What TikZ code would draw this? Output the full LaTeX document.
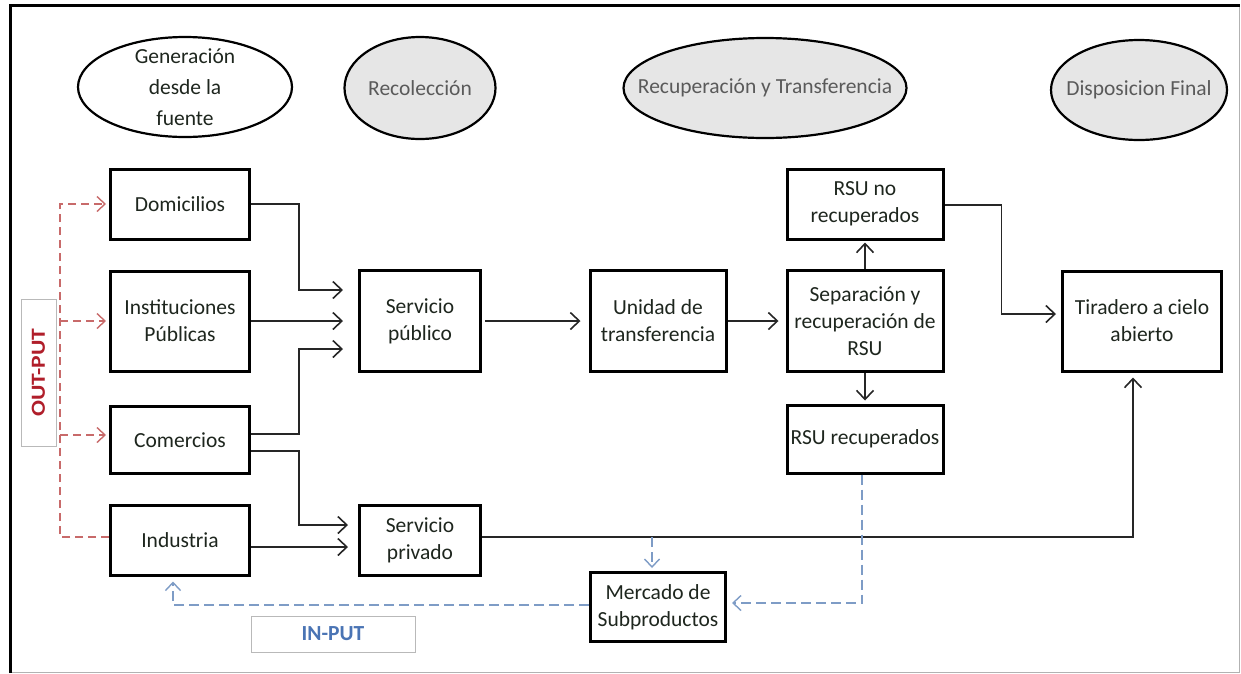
\documentclass[tikz,border=0pt]{standalone}
\usepackage{fontspec}
\setmainfont{Carlito}
\usetikzlibrary{arrows.meta,shapes.geometric}
\definecolor{stagegray}{HTML}{E6E6E6}
\definecolor{stagetext}{HTML}{5A5A5A}
\definecolor{boxtext}{HTML}{1E261E}
\definecolor{outred}{HTML}{C86A6A}
\definecolor{outlabel}{HTML}{B01E2A}
\definecolor{inblue}{HTML}{7E9CC6}
\definecolor{inlabel}{HTML}{4A74B4}
\begin{document}
\begin{tikzpicture}[x=1pt,y=-1pt,
  txt/.style={font=\fontsize{21.5}{27}\selectfont, align=center, text=boxtext},
  stage/.style={ellipse, draw=black, line width=2.2pt, fill=stagegray},
  stagelabel/.style={txt, text=stagetext},
  stepbox/.style={draw=black, line width=3pt, fill=white, txt, inner sep=0pt},
  flow/.style={draw=black!85, line width=1.6pt, -{Straight Barb[length=9pt,width=17pt,line width=1.6pt]}},
  outflow/.style={draw=outred, line width=1.4pt, dash pattern=on 8pt off 5pt,
    -{Straight Barb[length=8pt,width=15pt,line width=1.4pt]}},
  inflow/.style={draw=inblue, line width=1.4pt, dash pattern=on 10pt off 5pt,
    -{Straight Barb[length=8pt,width=15pt,line width=1.4pt]}},
  tag/.style={draw=gray!55, line width=0.8pt, fill=white, inner sep=0pt,
    font=\fontsize{21.5}{24}\selectfont\bfseries}
]
\useasboundingbox (0,0) rectangle (1241,673);

% page frame
\draw[gray!60, line width=1pt] (1239,5) -- (1239,672) -- (10,672);
\draw[black, line width=3pt] (10,673) -- (10,5) -- (1240,5);

% stage headings
\node[stage, fill=white, minimum width=214pt, minimum height=100pt] (gen) at (185,87) {};
\node[txt, font=\fontsize{21.5}{31}\selectfont] at (gen) {Generación\\desde la\\fuente};
\node[stage, minimum width=151pt, minimum height=102pt] (rec) at (420,88) {};
\node[stagelabel] at (rec) {Recolección};
\node[stage, minimum width=283pt, minimum height=100pt] (rect) at (765,88) {};
\node[stagelabel] at (rect) {Recuperación y Transferencia};
\node[stage, minimum width=176pt, minimum height=100pt] (disp) at (1139,90) {};
\node[stagelabel] at (disp) {Disposicion Final};

% sources
\node[stepbox, minimum width=139pt, minimum height=70pt] (dom) at (180,204) {Domicilios};
\node[stepbox, minimum width=139pt, minimum height=100pt] (inst) at (180,321) {Instituciones\\Públicas};
\node[stepbox, minimum width=139pt, minimum height=67pt] (com) at (180,440) {Comercios};
\node[stepbox, minimum width=139pt, minimum height=70pt] (ind) at (180,540) {Industria};

% collection
\node[stepbox, minimum width=121pt, minimum height=101pt] (spub) at (420,321) {Servicio\\público};
\node[stepbox, minimum width=121pt, minimum height=70pt] (spriv) at (420,540) {Servicio\\privado};

% recovery and transfer
\node[stepbox, minimum width=136pt, minimum height=101pt] (unid) at (658,321) {Unidad de\\transferencia};
\node[stepbox, minimum width=156pt, minimum height=101pt] (sep) at (865,321) {Separación y\\recuperación de\\RSU};
\node[stepbox, minimum width=156pt, minimum height=70pt] (rsuno) at (865,204) {RSU no\\recuperados};
\node[stepbox, minimum width=156pt, minimum height=68pt] (rsur) at (865,439) {RSU recuperados};

% final disposal and by-product market
\node[stepbox, minimum width=159pt, minimum height=100pt] (tir) at (1142,321) {Tiradero a cielo\\abierto};
\node[stepbox, minimum width=135pt, minimum height=69pt] (merc) at (658,607) {Mercado de\\Subproductos};

% labels of the feedback loops
\node[tag, minimum width=35pt, minimum height=147pt] (outtag) at (38.5,372.5) {};
\node[rotate=90, text=outlabel, font=\fontsize{20}{22}\selectfont\bfseries] at (outtag) {\scalebox{1.18}[1]{OUT-PUT}};
\node[tag, minimum width=164pt, minimum height=36pt, text=inlabel] (intag) at (333,634) {IN-PUT};

% flows towards collection
\draw[flow] (dom.east) -- ++(48,0) |- ([xshift=-15pt,yshift=31pt]spub.west);
\draw[flow] (inst.east) -- ([xshift=-15pt]spub.west);
\draw[flow] ([yshift=6pt]com.east) -- ++(48,0) |- ([xshift=-15pt,yshift=-28pt]spub.west);
\draw[flow] ([yshift=-11pt]com.east) -- ++(48,0) |- ([xshift=-10pt,yshift=15pt]spriv.west);
\draw[flow] ([yshift=-7pt]ind.east) -- ([xshift=-10pt,yshift=-7pt]spriv.west);

% main line
\draw[flow] ([xshift=3pt]spub.east) -- ([xshift=-8pt]unid.west);
\draw[flow] (unid.east) -- ([xshift=-7pt]sep.west);
\draw[flow] (sep.north) -- ([yshift=-2pt]rsuno.south);
\draw[flow] (sep.south) -- ([yshift=3pt]rsur.north);
\draw[flow] ([yshift=-1pt]rsuno.east) -- ++(57,0) |- ([xshift=-5pt,yshift=7pt]tir.west);
\draw[flow] ([yshift=3pt]spriv.east) -| ([xshift=-9pt,yshift=-5pt]tir.south);

% by-products
\coordinate (tap) at (652,537);
\draw[inflow] (tap) -- ([xshift=-6pt,yshift=3pt]merc.north);
\draw[inflow] ([xshift=-3pt]rsur.south) |- ([xshift=5pt,yshift=4pt]merc.east);
\draw[inflow] ([yshift=2pt]merc.west) -| ([xshift=-7pt,yshift=-5pt]ind.south);

% waste generation feedback
\coordinate (comin) at ([yshift=5pt]com.west);
\draw[outflow] ([yshift=3pt]ind.west) -- ++(-49,0) coordinate (rb) |- ([xshift=-3pt]dom.west);
\draw[outflow] (rb |- inst.west) -- ([xshift=-3pt]inst.west);
\draw[outflow] (rb |- comin) -- ([xshift=-3pt]comin);
\end{tikzpicture}
\end{document}
